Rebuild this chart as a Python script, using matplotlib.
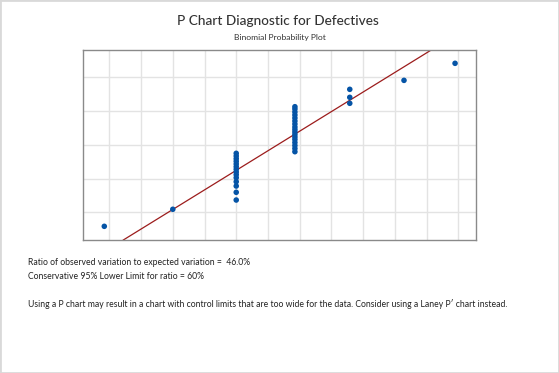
import matplotlib
matplotlib.use("Agg")
import matplotlib.pyplot as plt
from matplotlib.patches import Rectangle

plt.rcParams["font.family"] = ["Lato", "DejaVu Sans"]

# Points (grid units, no tick labels shown)
x_single = [0.84, 3.0, 10.29, 11.9]
y_single = [0.585, 1.09, 4.91, 5.415]

x_col5 = 5.0
y_col5 = [1.364, 1.593, 1.779, 1.907, 2.025, 2.114, 2.194, 2.274, 2.351,
          2.431, 2.511, 2.588, 2.668, 2.748]

x_col7 = 6.85
y_col7 = [2.796, 2.890, 2.979, 3.068, 3.157, 3.231, 3.305, 3.379, 3.453,
          3.527, 3.616, 3.705, 3.794, 3.883, 3.972, 4.061, 4.129]

x_col9 = 8.58
y_col9 = [4.23, 4.407, 4.644]

# Reference line ends
line_x = [1.44, 11.15]
line_y = [0.18, 5.81]

grid_x = list(range(1, 13))
grid_y = [1, 2, 3, 4, 5]

ratio_text = "Ratio of observed variation to expected variation =  46.0%"
limit_text = "Conservative 95% Lower Limit for ratio = 60%"
advice_text = ("Using a P chart may result in a chart with control limits that are too wide "
               "for the data. Consider using a Laney P\u2032 chart instead.")

fig = plt.figure(figsize=(5.59, 3.73), dpi=100)
fig.patches.append(Rectangle((0, 0), 1, 1, transform=fig.transFigure,
                             fill=False, edgecolor="#d9d9d9", linewidth=2))

ax = fig.add_axes([0.148, 0.3566, 0.7035, 0.5094])

xs = x_single + [x_col5] * len(y_col5) + [x_col7] * len(y_col7) + [x_col9] * len(y_col9)
ys = y_single + y_col5 + y_col7 + y_col9

ax.plot(line_x, line_y, color="#9c1c1c", linewidth=0.9, zorder=2)
ax.scatter(xs, ys, s=16, color="#0554a6", edgecolors="none", zorder=3)

ax.set_xlim(0.16, 12.56)
ax.set_ylim(0.18, 5.81)
ax.set_xticks(grid_x)
ax.set_yticks(grid_y)
ax.tick_params(length=0, labelbottom=False, labelleft=False)
ax.grid(True, color="#e3e3e3", linewidth=1)
ax.set_axisbelow(True)
for s in ax.spines.values():
    s.set_color("#8a8a8a")
    s.set_linewidth(1)

fig.text(0.498, 0.944, "P Chart Diagnostic for Defectives", ha="center", va="center",
         fontsize=9.8, color="#333333", fontweight="medium")
fig.text(0.5, 0.899, "Binomial Probability Plot", ha="center", va="center",
         fontsize=6.1, color="#333333")

fig.text(0.05, 0.2955, ratio_text, ha="left", va="center", fontsize=6.2, color="#222222")
fig.text(0.05, 0.259, limit_text, ha="left", va="center", fontsize=6.2, color="#222222")
fig.text(0.05, 0.1855, advice_text, ha="left", va="center", fontsize=6.2, color="#222222")

fig.savefig("out.png", dpi=100)
